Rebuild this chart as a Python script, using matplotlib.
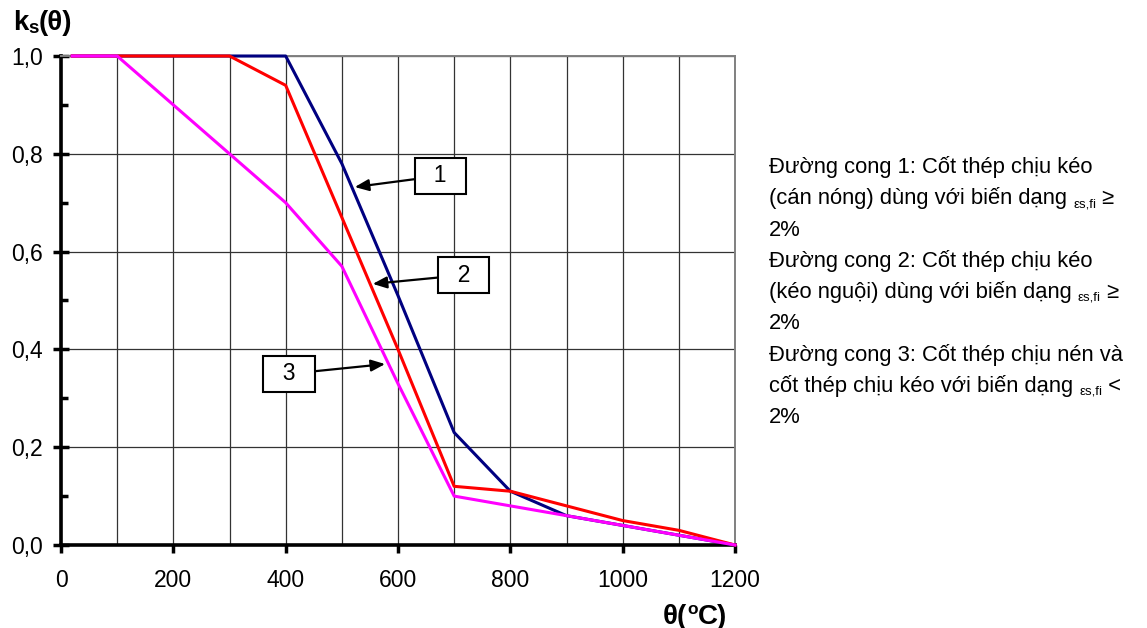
import matplotlib
matplotlib.use('Agg')
import matplotlib.pyplot as plt
from matplotlib.ticker import MultipleLocator, FuncFormatter
from matplotlib.transforms import IdentityTransform

# nhiệt độ (°C) và hệ số ks(θ) cho 3 đường cong
temp1 = [20, 100, 200, 300, 400, 500, 600, 700, 800, 900, 1000, 1100, 1200]
ks1 = [1.0, 1.0, 1.0, 1.0, 1.0, 0.78, 0.51, 0.23, 0.11, 0.06, 0.04, 0.02, 0.0]
temp2 = [20, 100, 200, 300, 400, 500, 600, 700, 800, 900, 1000, 1100, 1200]
ks2 = [1.0, 1.0, 1.0, 1.0, 0.94, 0.67, 0.40, 0.12, 0.11, 0.08, 0.05, 0.03, 0.0]
temp3 = [20, 100, 200, 300, 400, 500, 600, 700, 800, 900, 1000, 1100, 1200]
ks3 = [1.0, 1.0, 0.9, 0.8, 0.7, 0.57, 0.33, 0.10, 0.08, 0.06, 0.04, 0.02, 0.0]

# nhãn số trên hình: (text, vị trí mũi tên, vị trí hộp)
callouts = [("1", (523, 0.732), (675, 0.755)),
            ("2", (555, 0.534), (717, 0.552)),
            ("3", (577, 0.370), (406, 0.350))]

# chú thích bên phải: (phần chính, chỉ số dưới, phần sau)
notes = [("Đường cong 1: Cốt thép chịu kéo", "", ""),
         ("(cán nóng) dùng với biến dạng ", "εs,fi", " ≥"),
         ("2%", "", ""),
         ("Đường cong 2: Cốt thép chịu kéo", "", ""),
         ("(kéo nguội) dùng với biến dạng ", "εs,fi", " ≥"),
         ("2%", "", ""),
         ("Đường cong 3: Cốt thép chịu nén và", "", ""),
         ("cốt thép chịu kéo với biến dạng ", "εs,fi", " <"),
         ("2%", "", "")]

W, H = 1147, 628
plt.rcParams['font.family'] = ['Liberation Sans', 'DejaVu Sans']
fig = plt.figure(figsize=(W / 100, H / 100), dpi=100)
ax = fig.add_axes([61 / W, 1 - 545 / H, 674 / W, 489 / H])

ax.plot(temp1, ks1, color='#000080', lw=2.2, clip_on=False, zorder=3)
ax.plot(temp2, ks2, color='#ff0000', lw=2.2, clip_on=False, zorder=4)
ax.plot(temp3, ks3, color='#ff00ff', lw=2.2, clip_on=False, zorder=5)

ax.set_xlim(0, 1200)
ax.set_ylim(0, 1.0)
ax.xaxis.set_major_locator(MultipleLocator(200))
ax.xaxis.set_minor_locator(MultipleLocator(100))
ax.yaxis.set_major_locator(MultipleLocator(0.2))
ax.yaxis.set_minor_locator(MultipleLocator(0.1))
ax.yaxis.set_major_formatter(FuncFormatter(lambda v, p: f"{v:.1f}".replace('.', ',')))
ax.grid(True, which='both', axis='x', color='#333333', lw=0.9)
ax.grid(True, which='major', axis='y', color='#333333', lw=0.9)
ax.set_axisbelow(True)

ax.tick_params(axis='x', which='major', direction='out', length=6, width=2.5,
               labelsize=16.5, pad=11)
ax.tick_params(axis='x', which='minor', length=0)
ax.tick_params(axis='y', which='major', direction='inout', length=12, width=2.5,
               labelsize=16.5, pad=7)
ax.tick_params(axis='y', which='minor', direction='in', length=5, width=2.5)

for s in ['left', 'bottom']:
    ax.spines[s].set_linewidth(2.6)
for s in ['top', 'right']:
    ax.spines[s].set_color('#808080')
    ax.spines[s].set_linewidth(1.4)

for label, tip, box in callouts:
    ax.annotate("  " + label + "  ", xy=tip, xytext=box, fontsize=16.5,
                ha='center', va='center', zorder=6,
                bbox=dict(boxstyle='square,pad=0.28', fc='white', ec='black', lw=1.5),
                arrowprops=dict(arrowstyle='-|>,head_length=0.6,head_width=0.25',
                                color='black', lw=1.6,
                                mutation_scale=14, shrinkA=0, shrinkB=0))

fig.canvas.draw()
rend = fig.canvas.get_renderer()


def put_pieces(x, y, pieces):
    # x, y: pixel từ góc trên trái, y là đường chân chữ
    for txt, size, dy, weight in pieces:
        t = fig.text(x, H - y - dy, txt, fontsize=size, fontweight=weight,
                     transform=IdentityTransform(), va='baseline', ha='left')
        x += t.get_window_extent(renderer=rend).width


for i, (main, sub, tail) in enumerate(notes):
    pieces = [(main, 15.8, 0, 'normal')]
    if sub:
        pieces.append((sub, 9.5, 3, 'normal'))
        pieces.append((tail, 15.8, 0, 'normal'))
    put_pieces(769, 173 + 31.25 * i, pieces)

put_pieces(13, 30, [("k", 20, 0, 'bold'), ("s", 13.5, 3, 'bold'),
                    ("(θ)", 20, 0, 'bold')])
put_pieces(663, 624, [("θ(", 20, 0, 'bold'), ("o", 12.5, -10, 'bold'),
                      ("C)", 20, 0, 'bold')])

fig.savefig('out.png', dpi=100)
